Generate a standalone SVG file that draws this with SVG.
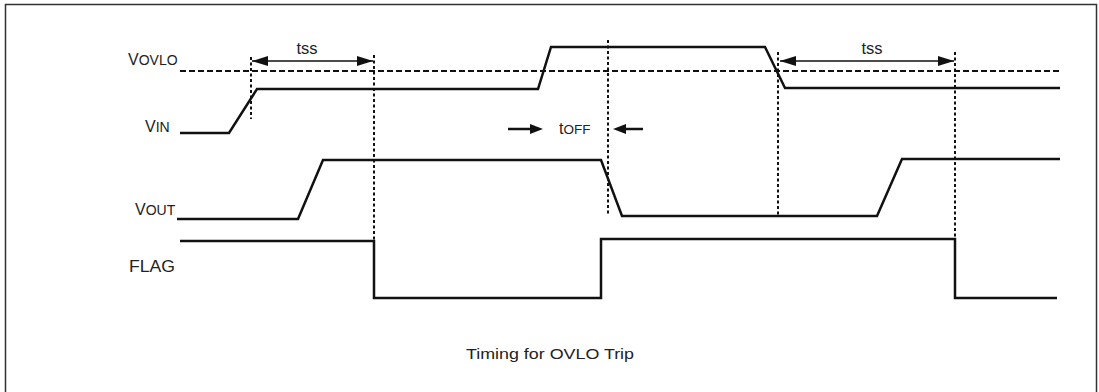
<svg xmlns="http://www.w3.org/2000/svg" width="1099" height="392" viewBox="0 0 1099 392">
<style>
.sig{fill:none;stroke:#111;stroke-width:2.5;stroke-linejoin:miter}
.dot{fill:none;stroke:#111;stroke-width:2;stroke-dasharray:3 2.5}
.dash{fill:none;stroke:#111;stroke-width:2;stroke-dasharray:6 3}
.dim{fill:none;stroke:#111;stroke-width:1.3}
.bold{fill:none;stroke:#111;stroke-width:2.5}
.t{font-family:"Liberation Sans",Arial,sans-serif;fill:#222}
</style>
<defs>
<marker id="ah" viewBox="0 0 16 10" refX="16" refY="5" markerWidth="16" markerHeight="10" markerUnits="userSpaceOnUse" orient="auto-start-reverse">
<path d="M0,0 L16,5 L0,10 Z" fill="#111"/>
</marker>
<marker id="ah2" viewBox="0 0 13 10" refX="1" refY="5" markerWidth="13" markerHeight="10" markerUnits="userSpaceOnUse" orient="auto">
<path d="M0,0 L13,5 L0,10 Z" fill="#111"/>
</marker>
</defs>
<rect x="5.5" y="4.5" width="1091" height="392" fill="#fff" stroke="#333" stroke-width="1.5"/>

<g id="labels">
<text class="t" x="128" y="65"><tspan font-size="16">V</tspan><tspan font-size="14">OVLO</tspan></text>
<text class="t" x="145" y="132"><tspan font-size="16">V</tspan><tspan font-size="14">IN</tspan></text>
<text class="t" x="135" y="215"><tspan font-size="16">V</tspan><tspan font-size="14">OUT</tspan></text>
<text class="t" x="129" y="272" font-size="16" textLength="46" lengthAdjust="spacingAndGlyphs">FLAG</text>
</g>

<g id="vovlo">
<line class="dash" x1="180" y1="71" x2="1060" y2="71"/>
</g>

<g id="vin">
<polyline class="sig" points="180,133 229,133 257,89 538,89 551,47 765,47 785,88 1060,88"/>
</g>

<g id="vout">
<polyline class="sig" points="177,219 298,219 323,160 601,160 622,216 877,216 902,159 1060,159"/>
</g>

<g id="flag">
<polyline class="sig" points="180,241 374,241 374,298 601,298 601,239 955,239 955,298 1057,298"/>
</g>

<g id="connectors">
<line class="dot" x1="251" y1="57" x2="251" y2="119"/>
<line class="dot" x1="374" y1="55" x2="374" y2="241"/>
<line class="dot" x1="608" y1="40" x2="608" y2="214"/>
<line class="dot" x1="778" y1="52" x2="778" y2="216"/>
<line class="dot" x1="955" y1="52" x2="955" y2="239"/>
<line class="dim" x1="252" y1="61" x2="373" y2="61" marker-start="url(#ah)" marker-end="url(#ah)"/>
<line class="dim" x1="780" y1="61" x2="954" y2="61" marker-start="url(#ah)" marker-end="url(#ah)"/>
<line class="bold" x1="508" y1="129" x2="531" y2="129" marker-end="url(#ah2)"/>
<line class="bold" x1="643" y1="129" x2="625" y2="129" marker-end="url(#ah2)"/>
</g>

<g id="timing-labels">
<text class="t" x="307" y="54" font-size="16.5" text-anchor="middle">tss</text>
<text class="t" x="872" y="54" font-size="16.5" text-anchor="middle">tss</text>
<text class="t" x="559" y="134"><tspan font-size="16">t</tspan><tspan font-size="13.5">OFF</tspan></text>
</g>

<g id="caption">
<text class="t" x="466" y="359" font-size="15" textLength="168" lengthAdjust="spacingAndGlyphs">Timing for OVLO Trip</text>
</g>
</svg>
